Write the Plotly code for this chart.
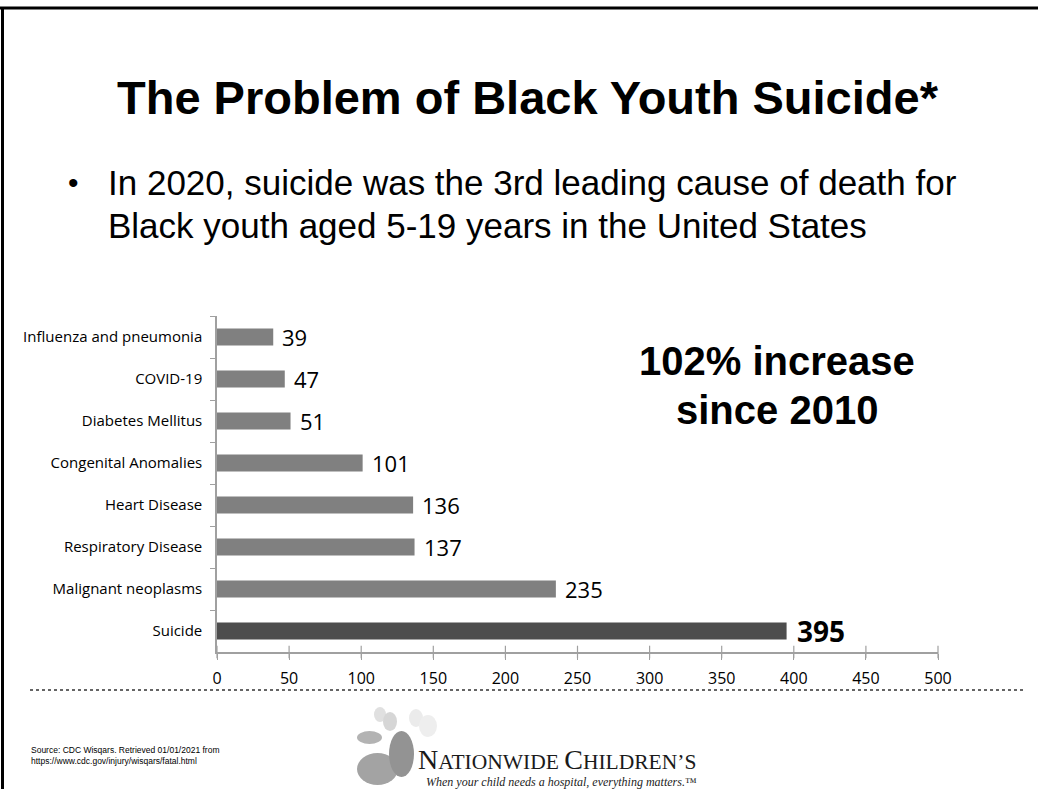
import plotly.graph_objects as go

# ---------------- data ----------------
causes = ["Influenza and pneumonia", "COVID-19", "Diabetes Mellitus",
          "Congenital Anomalies", "Heart Disease", "Respiratory Disease",
          "Malignant neoplasms", "Suicide"]
deaths = [39, 47, 51, 101, 136, 137, 235, 395]
highlight = "Suicide"
x_ticks = [0, 50, 100, 150, 200, 250, 300, 350, 400, 450, 500]

title_text = "<b>The Problem of Black Youth Suicide*</b>"
bullet_lines = ["In 2020, suicide was the 3rd leading cause of death for",
                "Black youth aged 5-19 years in the United States"]
callout_lines = ["<b>102% increase</b>", "<b>since 2010</b>"]
source_text = ("Source: CDC Wisqars. Retrieved 01/01/2021 from<br>"
               "https://www.cdc.gov/injury/wisqars/fatal.html")

# ---------------- layout geometry ----------------
W, H = 1038, 789
L, R, T, B = 217, 100, 316, 137
PW, PH = W - L - R, H - T - B


def px(x):
    return (x - L) / PW


def py(y):
    return (H - B - y) / PH


bar_colors = ["#4d4d4d" if c == highlight else "#808080" for c in causes]

fig = go.Figure()
fig.add_trace(go.Bar(
    y=causes, x=deaths, orientation="h",
    marker=dict(color=bar_colors, line=dict(width=0)),
    hoverinfo="x+y", showlegend=False,
))
# upper half of the crossing x-axis ticks
fig.add_trace(go.Scatter(
    x=x_ticks, y=[0] * len(x_ticks), xaxis="x", yaxis="y2", mode="markers",
    marker=dict(symbol="line-ns", size=9, line=dict(color="#a0a0a0", width=1.2)),
    hoverinfo="skip", showlegend=False, cliponaxis=False,
))

# data labels
for c, v in zip(causes, deaths):
    bold = c == highlight
    fig.add_annotation(
        x=v, y=c, xref="x", yref="y", xanchor="left", yanchor="middle",
        xshift=7 if not bold else 8,
        text=f"<b>{v}</b>" if bold else str(v), showarrow=False,
        font=dict(family="Open Sans", size=28 if bold else 22, color="#000"),
    )

fig.update_layout(
    width=W, height=H,
    margin=dict(l=L, r=R, t=T, b=B, pad=0),
    paper_bgcolor="white", plot_bgcolor="white",
    bargap=0.6,
    font=dict(family="Open Sans", color="#000"),
    xaxis=dict(
        range=[0, 500], tickvals=x_ticks, ticktext=[str(t) for t in x_ticks],
        showgrid=False, zeroline=False, showline=True, linecolor="#a0a0a0",
        linewidth=1.5, ticks="outside", ticklen=6, tickwidth=1.2,
        tickcolor="#a0a0a0", tickfont=dict(family="Open Sans", size=16, color="#000"),
        ticklabelstandoff=5, fixedrange=True,
    ),
    yaxis=dict(
        autorange="reversed", categoryorder="array", categoryarray=causes,
        showgrid=False, zeroline=False, showline=True, linecolor="#a0a0a0",
        linewidth=1.5, ticks="outside", ticklen=5, tickwidth=1.2,
        tickcolor="#a0a0a0", tickson="boundaries",
        tickfont=dict(family="Open Sans", size=15, color="#000"),
        ticklabelstandoff=10, fixedrange=True,
    ),
    yaxis2=dict(overlaying="y", range=[0, 1], visible=False, fixedrange=True),
)

# slide frame
fig.add_shape(type="line", xref="paper", yref="paper",
              x0=px(0), x1=px(W), y0=py(8), y1=py(8),
              line=dict(color="#000", width=3))
fig.add_shape(type="line", xref="paper", yref="paper",
              x0=px(2.5), x1=px(2.5), y0=py(8), y1=py(H),
              line=dict(color="#000", width=3))
# dotted separator
fig.add_shape(type="line", xref="paper", yref="paper",
              x0=px(30), x1=px(1025), y0=py(690), y1=py(690),
              line=dict(color="#333", width=1.5, dash="dot"))

# logo butterflies (decorative approximation)
butterflies = [
    # (x0, y0, x1, y1, fill)
    (374, 707, 386, 722, "#e0e0e0"), (383, 712, 397, 731, "#d6d6d6"),
    (409, 709, 423, 727, "#ebebeb"), (419, 715, 437, 737, "#eeeeee"),
    (357, 731, 382, 744, "#b3b3b3"),
    (357, 753, 398, 785, "#a3a3a3"), (389, 731, 414, 777, "#939393"),
]
for x0, y0, x1, y1, col in butterflies:
    fig.add_shape(type="circle", xref="paper", yref="paper",
                  x0=px(x0), x1=px(x1), y0=py(y1), y1=py(y0),
                  fillcolor=col, line=dict(width=0), layer="below")

# title
fig.add_annotation(xref="paper", yref="paper", x=px(528), y=py(97),
                   xanchor="center", yanchor="middle", showarrow=False,
                   text=title_text,
                   font=dict(family="Liberation Sans, Arial", size=47, color="#000"))
# bullet
fig.add_annotation(xref="paper", yref="paper", x=px(66), y=py(182),
                   xanchor="left", yanchor="middle", showarrow=False,
                   text="•",
                   font=dict(family="Liberation Sans, Arial", size=30, color="#000"))
for i, line in enumerate(bullet_lines):
    fig.add_annotation(xref="paper", yref="paper", x=px(106), y=py(182 + 43 * i),
                       xanchor="left", yanchor="middle", showarrow=False,
                       text=line,
                       font=dict(family="Liberation Sans, Arial", size=35, color="#000"))
# callout
for i, line in enumerate(callout_lines):
    fig.add_annotation(xref="paper", yref="paper", x=px(777), y=py(361 + 49 * i),
                       xanchor="center", yanchor="middle", showarrow=False,
                       text=line,
                       font=dict(family="Liberation Sans, Arial", size=40, color="#000"))
# source
fig.add_annotation(xref="paper", yref="paper", x=px(29), y=py(755),
                   xanchor="left", yanchor="middle", showarrow=False, align="left",
                   text=source_text,
                   font=dict(family="Liberation Sans, Arial", size=8.5, color="#000"))
# logo text
fig.add_annotation(xref="paper", yref="paper", x=px(416), y=py(777),
                   xanchor="left", yanchor="bottom", showarrow=False,
                   text=("<span style='font-size:28px'>N</span>ATIONWIDE "
                         "<span style='font-size:28px'>C</span>HILDREN’S"),
                   font=dict(family="Liberation Serif, serif", size=21.5, color="#1a1a1a"))
fig.add_annotation(xref="paper", yref="paper", x=px(424), y=py(773),
                   xanchor="left", yanchor="top", showarrow=False,
                   text="<i>When your child needs a hospital, everything matters.™</i>",
                   font=dict(family="Liberation Serif, serif", size=12, color="#222"))

fig.write_html("out.html", config={"displayModeBar": False},
               post_script="document.body.style.margin='0';")
